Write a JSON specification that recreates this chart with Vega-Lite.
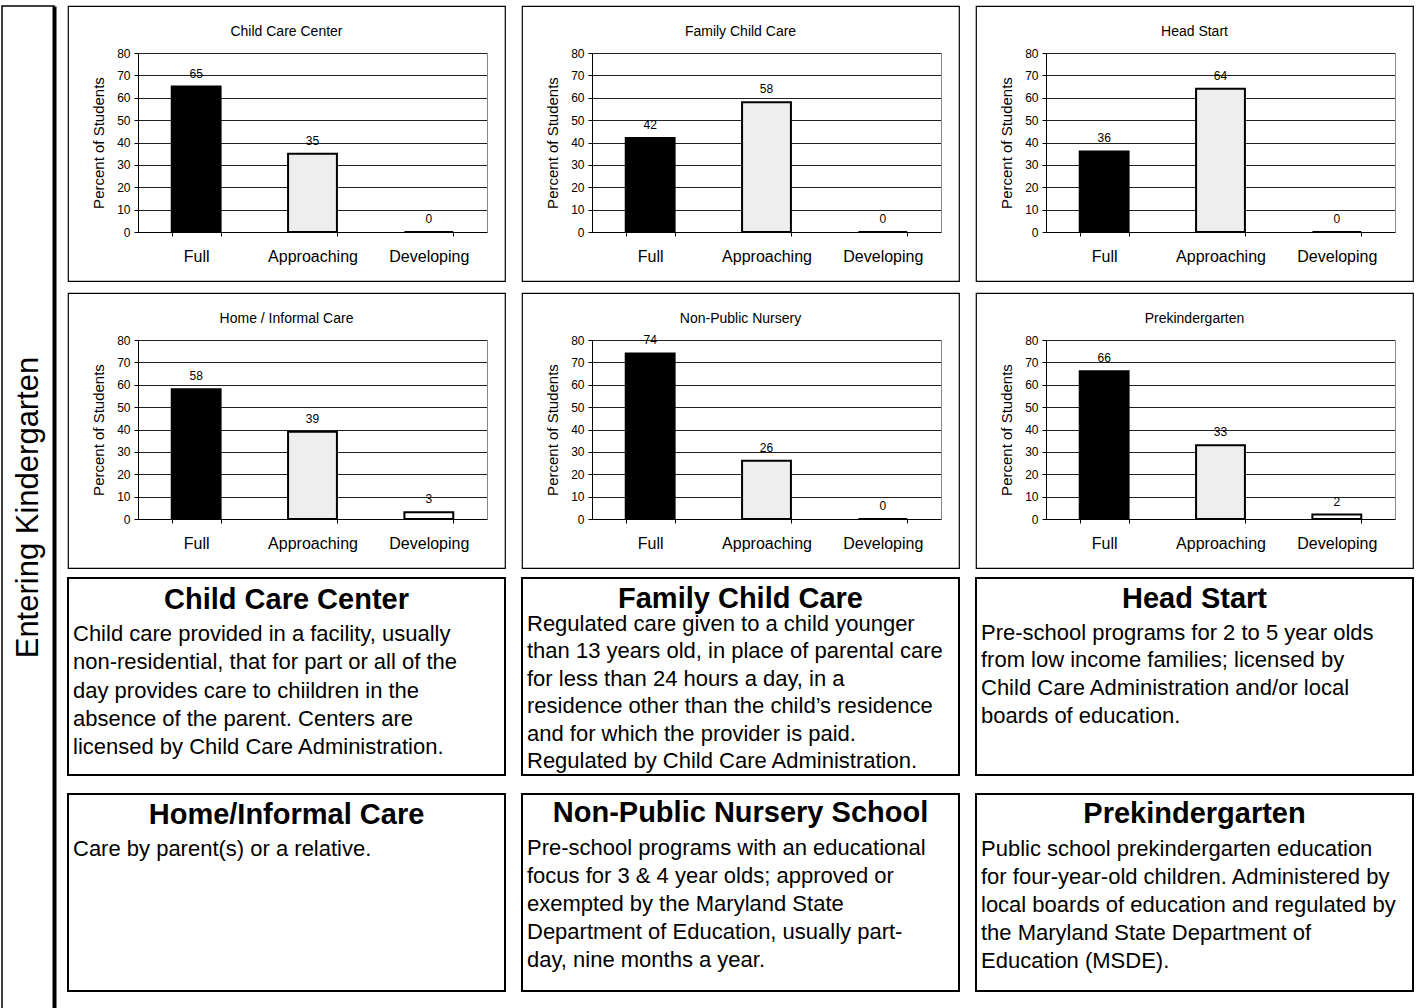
{
  "$schema": "https://vega.github.io/schema/vega-lite/v6.json",
  "background": "white",
  "padding": {"left": 1, "top": 5, "right": 0, "bottom": 0},
  "config": {
    "font": "Liberation Sans",
    "view": {"stroke": "#000", "strokeWidth": 2},
    "axis": {"labelFont": "Liberation Sans", "titleFont": "Liberation Sans"}
  },
  "datasets": {
    "bars": [
      {"panel": "Child Care Center", "level": "Full", "value": 65},
      {"panel": "Child Care Center", "level": "Approaching", "value": 35},
      {"panel": "Child Care Center", "level": "Developing", "value": 0},
      {"panel": "Family Child Care", "level": "Full", "value": 42},
      {"panel": "Family Child Care", "level": "Approaching", "value": 58},
      {"panel": "Family Child Care", "level": "Developing", "value": 0},
      {"panel": "Head Start", "level": "Full", "value": 36},
      {"panel": "Head Start", "level": "Approaching", "value": 64},
      {"panel": "Head Start", "level": "Developing", "value": 0},
      {"panel": "Home / Informal Care", "level": "Full", "value": 58},
      {"panel": "Home / Informal Care", "level": "Approaching", "value": 39},
      {"panel": "Home / Informal Care", "level": "Developing", "value": 3},
      {"panel": "Non-Public Nursery", "level": "Full", "value": 74},
      {"panel": "Non-Public Nursery", "level": "Approaching", "value": 26},
      {"panel": "Non-Public Nursery", "level": "Developing", "value": 0},
      {"panel": "Prekindergarten", "level": "Full", "value": 66},
      {"panel": "Prekindergarten", "level": "Approaching", "value": 33},
      {"panel": "Prekindergarten", "level": "Developing", "value": 2}
    ],
    "boxes": [
      {"box": "Child Care Center", "kind": "title", "col": 0.5, "pos": 0.78, "t": "Child Care Center"},
      {"box": "Child Care Center", "kind": "body", "col": 0, "pos": 2.0, "t": "Child care provided in a facility, usually"},
      {"box": "Child Care Center", "kind": "body", "col": 0, "pos": 3.0, "t": "non-residential, that for part or all of the"},
      {"box": "Child Care Center", "kind": "body", "col": 0, "pos": 4.0, "t": "day provides care to chiildren in the"},
      {"box": "Child Care Center", "kind": "body", "col": 0, "pos": 5.0, "t": "absence of the parent.  Centers are"},
      {"box": "Child Care Center", "kind": "body", "col": 0, "pos": 6.0, "t": "licensed by Child Care Administration."},
      {"box": "Family Child Care", "kind": "title", "col": 0.5, "pos": 0.74, "t": "Family Child Care"},
      {"box": "Family Child Care", "kind": "body", "col": 0, "pos": 1.64, "t": "Regulated care given to a child younger"},
      {"box": "Family Child Care", "kind": "body", "col": 0, "pos": 2.61, "t": "than 13 years old, in place of parental care"},
      {"box": "Family Child Care", "kind": "body", "col": 0, "pos": 3.59, "t": "for less than 24 hours a day, in a"},
      {"box": "Family Child Care", "kind": "body", "col": 0, "pos": 4.56, "t": "residence other than the child’s residence"},
      {"box": "Family Child Care", "kind": "body", "col": 0, "pos": 5.54, "t": "and for which the provider is paid."},
      {"box": "Family Child Care", "kind": "body", "col": 0, "pos": 6.52, "t": "Regulated by Child Care Administration."},
      {"box": "Head Start", "kind": "title", "col": 0.5, "pos": 0.75, "t": "Head Start"},
      {"box": "Head Start", "kind": "body", "col": 0, "pos": 1.95, "t": "Pre-school programs for 2 to 5 year olds"},
      {"box": "Head Start", "kind": "body", "col": 0, "pos": 2.91, "t": "from low income families; licensed by"},
      {"box": "Head Start", "kind": "body", "col": 0, "pos": 3.91, "t": "Child Care Administration and/or local"},
      {"box": "Head Start", "kind": "body", "col": 0, "pos": 4.9, "t": "boards of education."},
      {"box": "Home/Informal Care", "kind": "title", "col": 0.5, "pos": 0.75, "t": "Home/Informal Care"},
      {"box": "Home/Informal Care", "kind": "body", "col": 0, "pos": 1.95, "t": "Care by parent(s) or a relative."},
      {"box": "Non-Public Nursery School", "kind": "title", "col": 0.5, "pos": 0.68, "t": "Non-Public Nursery School"},
      {"box": "Non-Public Nursery School", "kind": "body", "col": 0, "pos": 1.92, "t": "Pre-school programs with an educational"},
      {"box": "Non-Public Nursery School", "kind": "body", "col": 0, "pos": 2.91, "t": "focus for 3 & 4 year olds; approved or"},
      {"box": "Non-Public Nursery School", "kind": "body", "col": 0, "pos": 3.91, "t": "exempted by the Maryland State"},
      {"box": "Non-Public Nursery School", "kind": "body", "col": 0, "pos": 4.9, "t": "Department of Education, usually part-"},
      {"box": "Non-Public Nursery School", "kind": "body", "col": 0, "pos": 5.9, "t": "day, nine months a year."},
      {"box": "Prekindergarten", "kind": "title", "col": 0.5, "pos": 0.71, "t": "Prekindergarten"},
      {"box": "Prekindergarten", "kind": "body", "col": 0, "pos": 1.95, "t": "Public school prekindergarten education"},
      {"box": "Prekindergarten", "kind": "body", "col": 0, "pos": 2.95, "t": "for four-year-old children.  Administered by"},
      {"box": "Prekindergarten", "kind": "body", "col": 0, "pos": 3.95, "t": "local boards of education and regulated by"},
      {"box": "Prekindergarten", "kind": "body", "col": 0, "pos": 4.95, "t": "the Maryland State Department of"},
      {"box": "Prekindergarten", "kind": "body", "col": 0, "pos": 5.93, "t": "Education (MSDE)."}
    ],
    "side": [{"label": "Entering Kindergarten", "x": 0.52, "y": 0.5}]
  },
  "spacing": 12,
  "hconcat": [
    {
      "width": 52, "height": 1003,
      "view": {"stroke": "#000", "strokeWidth": 1.5},
      "data": {"name": "side"},
      "mark": {"type": "text", "angle": 270, "fontSize": 31, "align": "center", "baseline": "middle", "color": "#000"},
      "encoding": {
        "x": {"field": "x", "type": "quantitative", "scale": {"domain": [0, 1]}, "axis": null},
        "y": {"field": "y", "type": "quantitative", "scale": {"domain": [0, 1]},
              "axis": {"orient": "right", "labels": false, "ticks": false, "grid": false, "title": null, "domainColor": "#000", "domainWidth": 4}},
        "text": {"field": "label"}
      }
    },
    {
      "spacing": 8,
      "vconcat": [
        {
          "spacing": 10,
          "vconcat": [
            {
              "spacing": 15,
              "hconcat": [
                {
                  "width": 437, "height": 275,
                  "view": {"stroke": "#000", "strokeWidth": 1.2},
                  "title": {"text": "Child Care Center", "offset": -33, "fontSize": 14, "fontWeight": "normal", "anchor": "middle", "frame": "group", "color": "#000"},
                  "data": {"name": "bars"},
                  "transform": [{"filter": {"field": "panel", "equal": "Child Care Center"}}],
                  "encoding": {
                    "x": {"field": "level", "type": "nominal", "sort": ["Full", "Approaching", "Developing"],
                          "scale": {"range": [70, 419], "paddingInner": 0.58, "paddingOuter": 0.29},
                          "axis": {"title": null, "labelAngle": 0, "labelFontSize": 16, "labelColor": "#000", "labelPadding": 12, "offset": -49, "domainColor": "#000", "tickColor": "#000", "tickSize": 4, "tickBand": "extent", "grid": false}}
                  },
                  "layer": [
                    {"mark": {"type": "bar", "stroke": "#000", "strokeWidth": 2},
                     "encoding": {
                       "y": {"field": "value", "type": "quantitative", "scale": {"domain": [0, 80], "range": [226, 47]},
                             "axis": {"title": "Percent of Students", "titleFontSize": 15, "titleFontWeight": "normal", "titleColor": "#000", "titlePadding": 10, "labelFontSize": 12, "labelColor": "#000", "labelPadding": 4, "tickSize": 4, "tickColor": "#000", "domainColor": "#000", "offset": -70, "values": [0, 10, 20, 30, 40, 50, 60, 70, 80], "grid": true, "gridColor": "#222", "gridOpacity": 1}},
                       "fill": {"field": "level", "type": "nominal", "scale": {"domain": ["Full", "Approaching", "Developing"], "range": ["#000000", "#eeeeee", "#ffffff"]}, "legend": null}}},
                    {"mark": {"type": "text", "dy": -13, "fontSize": 12, "baseline": "middle", "color": "#000"},
                     "encoding": {
                       "y": {"field": "value", "type": "quantitative", "scale": {"domain": [0, 80], "range": [226, 47]},
                             "axis": {"orient": "right", "offset": -18, "labels": false, "ticks": false, "grid": false, "title": null, "domainColor": "#888"}},
                       "text": {"field": "value", "type": "quantitative"}}}
                  ],
                  "resolve": {"axis": {"y": "independent"}}
                },
                {
                  "width": 437, "height": 275,
                  "view": {"stroke": "#000", "strokeWidth": 1.2},
                  "title": {"text": "Family Child Care", "offset": -33, "fontSize": 14, "fontWeight": "normal", "anchor": "middle", "frame": "group", "color": "#000"},
                  "data": {"name": "bars"},
                  "transform": [{"filter": {"field": "panel", "equal": "Family Child Care"}}],
                  "encoding": {
                    "x": {"field": "level", "type": "nominal", "sort": ["Full", "Approaching", "Developing"],
                          "scale": {"range": [70, 419], "paddingInner": 0.58, "paddingOuter": 0.29},
                          "axis": {"title": null, "labelAngle": 0, "labelFontSize": 16, "labelColor": "#000", "labelPadding": 12, "offset": -49, "domainColor": "#000", "tickColor": "#000", "tickSize": 4, "tickBand": "extent", "grid": false}}
                  },
                  "layer": [
                    {"mark": {"type": "bar", "stroke": "#000", "strokeWidth": 2},
                     "encoding": {
                       "y": {"field": "value", "type": "quantitative", "scale": {"domain": [0, 80], "range": [226, 47]},
                             "axis": {"title": "Percent of Students", "titleFontSize": 15, "titleFontWeight": "normal", "titleColor": "#000", "titlePadding": 10, "labelFontSize": 12, "labelColor": "#000", "labelPadding": 4, "tickSize": 4, "tickColor": "#000", "domainColor": "#000", "offset": -70, "values": [0, 10, 20, 30, 40, 50, 60, 70, 80], "grid": true, "gridColor": "#222", "gridOpacity": 1}},
                       "fill": {"field": "level", "type": "nominal", "scale": {"domain": ["Full", "Approaching", "Developing"], "range": ["#000000", "#eeeeee", "#ffffff"]}, "legend": null}}},
                    {"mark": {"type": "text", "dy": -13, "fontSize": 12, "baseline": "middle", "color": "#000"},
                     "encoding": {
                       "y": {"field": "value", "type": "quantitative", "scale": {"domain": [0, 80], "range": [226, 47]},
                             "axis": {"orient": "right", "offset": -18, "labels": false, "ticks": false, "grid": false, "title": null, "domainColor": "#888"}},
                       "text": {"field": "value", "type": "quantitative"}}}
                  ],
                  "resolve": {"axis": {"y": "independent"}}
                },
                {
                  "width": 437, "height": 275,
                  "view": {"stroke": "#000", "strokeWidth": 1.2},
                  "title": {"text": "Head Start", "offset": -33, "fontSize": 14, "fontWeight": "normal", "anchor": "middle", "frame": "group", "color": "#000"},
                  "data": {"name": "bars"},
                  "transform": [{"filter": {"field": "panel", "equal": "Head Start"}}],
                  "encoding": {
                    "x": {"field": "level", "type": "nominal", "sort": ["Full", "Approaching", "Developing"],
                          "scale": {"range": [70, 419], "paddingInner": 0.58, "paddingOuter": 0.29},
                          "axis": {"title": null, "labelAngle": 0, "labelFontSize": 16, "labelColor": "#000", "labelPadding": 12, "offset": -49, "domainColor": "#000", "tickColor": "#000", "tickSize": 4, "tickBand": "extent", "grid": false}}
                  },
                  "layer": [
                    {"mark": {"type": "bar", "stroke": "#000", "strokeWidth": 2},
                     "encoding": {
                       "y": {"field": "value", "type": "quantitative", "scale": {"domain": [0, 80], "range": [226, 47]},
                             "axis": {"title": "Percent of Students", "titleFontSize": 15, "titleFontWeight": "normal", "titleColor": "#000", "titlePadding": 10, "labelFontSize": 12, "labelColor": "#000", "labelPadding": 4, "tickSize": 4, "tickColor": "#000", "domainColor": "#000", "offset": -70, "values": [0, 10, 20, 30, 40, 50, 60, 70, 80], "grid": true, "gridColor": "#222", "gridOpacity": 1}},
                       "fill": {"field": "level", "type": "nominal", "scale": {"domain": ["Full", "Approaching", "Developing"], "range": ["#000000", "#eeeeee", "#ffffff"]}, "legend": null}}},
                    {"mark": {"type": "text", "dy": -13, "fontSize": 12, "baseline": "middle", "color": "#000"},
                     "encoding": {
                       "y": {"field": "value", "type": "quantitative", "scale": {"domain": [0, 80], "range": [226, 47]},
                             "axis": {"orient": "right", "offset": -18, "labels": false, "ticks": false, "grid": false, "title": null, "domainColor": "#888"}},
                       "text": {"field": "value", "type": "quantitative"}}}
                  ],
                  "resolve": {"axis": {"y": "independent"}}
                }
              ]
            },
            {
              "spacing": 15,
              "hconcat": [
                {
                  "width": 437, "height": 275,
                  "view": {"stroke": "#000", "strokeWidth": 1.2},
                  "title": {"text": "Home / Informal Care", "offset": -33, "fontSize": 14, "fontWeight": "normal", "anchor": "middle", "frame": "group", "color": "#000"},
                  "data": {"name": "bars"},
                  "transform": [{"filter": {"field": "panel", "equal": "Home / Informal Care"}}],
                  "encoding": {
                    "x": {"field": "level", "type": "nominal", "sort": ["Full", "Approaching", "Developing"],
                          "scale": {"range": [70, 419], "paddingInner": 0.58, "paddingOuter": 0.29},
                          "axis": {"title": null, "labelAngle": 0, "labelFontSize": 16, "labelColor": "#000", "labelPadding": 12, "offset": -49, "domainColor": "#000", "tickColor": "#000", "tickSize": 4, "tickBand": "extent", "grid": false}}
                  },
                  "layer": [
                    {"mark": {"type": "bar", "stroke": "#000", "strokeWidth": 2},
                     "encoding": {
                       "y": {"field": "value", "type": "quantitative", "scale": {"domain": [0, 80], "range": [226, 47]},
                             "axis": {"title": "Percent of Students", "titleFontSize": 15, "titleFontWeight": "normal", "titleColor": "#000", "titlePadding": 10, "labelFontSize": 12, "labelColor": "#000", "labelPadding": 4, "tickSize": 4, "tickColor": "#000", "domainColor": "#000", "offset": -70, "values": [0, 10, 20, 30, 40, 50, 60, 70, 80], "grid": true, "gridColor": "#222", "gridOpacity": 1}},
                       "fill": {"field": "level", "type": "nominal", "scale": {"domain": ["Full", "Approaching", "Developing"], "range": ["#000000", "#eeeeee", "#ffffff"]}, "legend": null}}},
                    {"mark": {"type": "text", "dy": -13, "fontSize": 12, "baseline": "middle", "color": "#000"},
                     "encoding": {
                       "y": {"field": "value", "type": "quantitative", "scale": {"domain": [0, 80], "range": [226, 47]},
                             "axis": {"orient": "right", "offset": -18, "labels": false, "ticks": false, "grid": false, "title": null, "domainColor": "#888"}},
                       "text": {"field": "value", "type": "quantitative"}}}
                  ],
                  "resolve": {"axis": {"y": "independent"}}
                },
                {
                  "width": 437, "height": 275,
                  "view": {"stroke": "#000", "strokeWidth": 1.2},
                  "title": {"text": "Non-Public Nursery", "offset": -33, "fontSize": 14, "fontWeight": "normal", "anchor": "middle", "frame": "group", "color": "#000"},
                  "data": {"name": "bars"},
                  "transform": [{"filter": {"field": "panel", "equal": "Non-Public Nursery"}}],
                  "encoding": {
                    "x": {"field": "level", "type": "nominal", "sort": ["Full", "Approaching", "Developing"],
                          "scale": {"range": [70, 419], "paddingInner": 0.58, "paddingOuter": 0.29},
                          "axis": {"title": null, "labelAngle": 0, "labelFontSize": 16, "labelColor": "#000", "labelPadding": 12, "offset": -49, "domainColor": "#000", "tickColor": "#000", "tickSize": 4, "tickBand": "extent", "grid": false}}
                  },
                  "layer": [
                    {"mark": {"type": "bar", "stroke": "#000", "strokeWidth": 2},
                     "encoding": {
                       "y": {"field": "value", "type": "quantitative", "scale": {"domain": [0, 80], "range": [226, 47]},
                             "axis": {"title": "Percent of Students", "titleFontSize": 15, "titleFontWeight": "normal", "titleColor": "#000", "titlePadding": 10, "labelFontSize": 12, "labelColor": "#000", "labelPadding": 4, "tickSize": 4, "tickColor": "#000", "domainColor": "#000", "offset": -70, "values": [0, 10, 20, 30, 40, 50, 60, 70, 80], "grid": true, "gridColor": "#222", "gridOpacity": 1}},
                       "fill": {"field": "level", "type": "nominal", "scale": {"domain": ["Full", "Approaching", "Developing"], "range": ["#000000", "#eeeeee", "#ffffff"]}, "legend": null}}},
                    {"mark": {"type": "text", "dy": -13, "fontSize": 12, "baseline": "middle", "color": "#000"},
                     "encoding": {
                       "y": {"field": "value", "type": "quantitative", "scale": {"domain": [0, 80], "range": [226, 47]},
                             "axis": {"orient": "right", "offset": -18, "labels": false, "ticks": false, "grid": false, "title": null, "domainColor": "#888"}},
                       "text": {"field": "value", "type": "quantitative"}}}
                  ],
                  "resolve": {"axis": {"y": "independent"}}
                },
                {
                  "width": 437, "height": 275,
                  "view": {"stroke": "#000", "strokeWidth": 1.2},
                  "title": {"text": "Prekindergarten", "offset": -33, "fontSize": 14, "fontWeight": "normal", "anchor": "middle", "frame": "group", "color": "#000"},
                  "data": {"name": "bars"},
                  "transform": [{"filter": {"field": "panel", "equal": "Prekindergarten"}}],
                  "encoding": {
                    "x": {"field": "level", "type": "nominal", "sort": ["Full", "Approaching", "Developing"],
                          "scale": {"range": [70, 419], "paddingInner": 0.58, "paddingOuter": 0.29},
                          "axis": {"title": null, "labelAngle": 0, "labelFontSize": 16, "labelColor": "#000", "labelPadding": 12, "offset": -49, "domainColor": "#000", "tickColor": "#000", "tickSize": 4, "tickBand": "extent", "grid": false}}
                  },
                  "layer": [
                    {"mark": {"type": "bar", "stroke": "#000", "strokeWidth": 2},
                     "encoding": {
                       "y": {"field": "value", "type": "quantitative", "scale": {"domain": [0, 80], "range": [226, 47]},
                             "axis": {"title": "Percent of Students", "titleFontSize": 15, "titleFontWeight": "normal", "titleColor": "#000", "titlePadding": 10, "labelFontSize": 12, "labelColor": "#000", "labelPadding": 4, "tickSize": 4, "tickColor": "#000", "domainColor": "#000", "offset": -70, "values": [0, 10, 20, 30, 40, 50, 60, 70, 80], "grid": true, "gridColor": "#222", "gridOpacity": 1}},
                       "fill": {"field": "level", "type": "nominal", "scale": {"domain": ["Full", "Approaching", "Developing"], "range": ["#000000", "#eeeeee", "#ffffff"]}, "legend": null}}},
                    {"mark": {"type": "text", "dy": -13, "fontSize": 12, "baseline": "middle", "color": "#000"},
                     "encoding": {
                       "y": {"field": "value", "type": "quantitative", "scale": {"domain": [0, 80], "range": [226, 47]},
                             "axis": {"orient": "right", "offset": -18, "labels": false, "ticks": false, "grid": false, "title": null, "domainColor": "#888"}},
                       "text": {"field": "value", "type": "quantitative"}}}
                  ],
                  "resolve": {"axis": {"y": "independent"}}
                }
              ]
            }
          ]
        },
        {
          "spacing": 17,
          "vconcat": [
            {
              "spacing": 15,
              "hconcat": [
                {"width": 437, "height": 197, "data": {"name": "boxes"}, "transform": [{"filter": {"field": "box", "equal": "Child Care Center"}}],
                 "layer": [
                   {"transform": [{"filter": {"field": "kind", "equal": "title"}}],
                    "mark": {"type": "text", "fontSize": 29, "fontWeight": "bold", "align": "center", "baseline": "middle", "color": "#000"},
                    "encoding": {"x": {"field": "col", "type": "quantitative", "scale": {"domain": [0, 1]}, "axis": null},
                                 "y": {"field": "pos", "type": "quantitative", "scale": {"domain": [0, 7], "reverse": true}, "axis": null},
                                 "text": {"field": "t"}}},
                   {"transform": [{"filter": {"field": "kind", "equal": "body"}}],
                    "mark": {"type": "text", "fontSize": 22, "align": "left", "baseline": "middle", "dx": 5, "color": "#000"},
                    "encoding": {"x": {"field": "col", "type": "quantitative", "scale": {"domain": [0, 1]}, "axis": null},
                                 "y": {"field": "pos", "type": "quantitative", "scale": {"domain": [0, 7], "reverse": true}, "axis": null},
                                 "text": {"field": "t"}}}
                 ]},
                {"width": 437, "height": 197, "data": {"name": "boxes"}, "transform": [{"filter": {"field": "box", "equal": "Family Child Care"}}],
                 "layer": [
                   {"transform": [{"filter": {"field": "kind", "equal": "title"}}],
                    "mark": {"type": "text", "fontSize": 29, "fontWeight": "bold", "align": "center", "baseline": "middle", "color": "#000"},
                    "encoding": {"x": {"field": "col", "type": "quantitative", "scale": {"domain": [0, 1]}, "axis": null},
                                 "y": {"field": "pos", "type": "quantitative", "scale": {"domain": [0, 7], "reverse": true}, "axis": null},
                                 "text": {"field": "t"}}},
                   {"transform": [{"filter": {"field": "kind", "equal": "body"}}],
                    "mark": {"type": "text", "fontSize": 22, "align": "left", "baseline": "middle", "dx": 5, "color": "#000"},
                    "encoding": {"x": {"field": "col", "type": "quantitative", "scale": {"domain": [0, 1]}, "axis": null},
                                 "y": {"field": "pos", "type": "quantitative", "scale": {"domain": [0, 7], "reverse": true}, "axis": null},
                                 "text": {"field": "t"}}}
                 ]},
                {"width": 437, "height": 197, "data": {"name": "boxes"}, "transform": [{"filter": {"field": "box", "equal": "Head Start"}}],
                 "layer": [
                   {"transform": [{"filter": {"field": "kind", "equal": "title"}}],
                    "mark": {"type": "text", "fontSize": 29, "fontWeight": "bold", "align": "center", "baseline": "middle", "color": "#000"},
                    "encoding": {"x": {"field": "col", "type": "quantitative", "scale": {"domain": [0, 1]}, "axis": null},
                                 "y": {"field": "pos", "type": "quantitative", "scale": {"domain": [0, 7], "reverse": true}, "axis": null},
                                 "text": {"field": "t"}}},
                   {"transform": [{"filter": {"field": "kind", "equal": "body"}}],
                    "mark": {"type": "text", "fontSize": 22, "align": "left", "baseline": "middle", "dx": 5, "color": "#000"},
                    "encoding": {"x": {"field": "col", "type": "quantitative", "scale": {"domain": [0, 1]}, "axis": null},
                                 "y": {"field": "pos", "type": "quantitative", "scale": {"domain": [0, 7], "reverse": true}, "axis": null},
                                 "text": {"field": "t"}}}
                 ]}
              ]
            },
            {
              "spacing": 15,
              "hconcat": [
                {"width": 437, "height": 197, "data": {"name": "boxes"}, "transform": [{"filter": {"field": "box", "equal": "Home/Informal Care"}}],
                 "layer": [
                   {"transform": [{"filter": {"field": "kind", "equal": "title"}}],
                    "mark": {"type": "text", "fontSize": 29, "fontWeight": "bold", "align": "center", "baseline": "middle", "color": "#000"},
                    "encoding": {"x": {"field": "col", "type": "quantitative", "scale": {"domain": [0, 1]}, "axis": null},
                                 "y": {"field": "pos", "type": "quantitative", "scale": {"domain": [0, 7], "reverse": true}, "axis": null},
                                 "text": {"field": "t"}}},
                   {"transform": [{"filter": {"field": "kind", "equal": "body"}}],
                    "mark": {"type": "text", "fontSize": 22, "align": "left", "baseline": "middle", "dx": 5, "color": "#000"},
                    "encoding": {"x": {"field": "col", "type": "quantitative", "scale": {"domain": [0, 1]}, "axis": null},
                                 "y": {"field": "pos", "type": "quantitative", "scale": {"domain": [0, 7], "reverse": true}, "axis": null},
                                 "text": {"field": "t"}}}
                 ]},
                {"width": 437, "height": 197, "data": {"name": "boxes"}, "transform": [{"filter": {"field": "box", "equal": "Non-Public Nursery School"}}],
                 "layer": [
                   {"transform": [{"filter": {"field": "kind", "equal": "title"}}],
                    "mark": {"type": "text", "fontSize": 29, "fontWeight": "bold", "align": "center", "baseline": "middle", "color": "#000"},
                    "encoding": {"x": {"field": "col", "type": "quantitative", "scale": {"domain": [0, 1]}, "axis": null},
                                 "y": {"field": "pos", "type": "quantitative", "scale": {"domain": [0, 7], "reverse": true}, "axis": null},
                                 "text": {"field": "t"}}},
                   {"transform": [{"filter": {"field": "kind", "equal": "body"}}],
                    "mark": {"type": "text", "fontSize": 22, "align": "left", "baseline": "middle", "dx": 5, "color": "#000"},
                    "encoding": {"x": {"field": "col", "type": "quantitative", "scale": {"domain": [0, 1]}, "axis": null},
                                 "y": {"field": "pos", "type": "quantitative", "scale": {"domain": [0, 7], "reverse": true}, "axis": null},
                                 "text": {"field": "t"}}}
                 ]},
                {"width": 437, "height": 197, "data": {"name": "boxes"}, "transform": [{"filter": {"field": "box", "equal": "Prekindergarten"}}],
                 "layer": [
                   {"transform": [{"filter": {"field": "kind", "equal": "title"}}],
                    "mark": {"type": "text", "fontSize": 29, "fontWeight": "bold", "align": "center", "baseline": "middle", "color": "#000"},
                    "encoding": {"x": {"field": "col", "type": "quantitative", "scale": {"domain": [0, 1]}, "axis": null},
                                 "y": {"field": "pos", "type": "quantitative", "scale": {"domain": [0, 7], "reverse": true}, "axis": null},
                                 "text": {"field": "t"}}},
                   {"transform": [{"filter": {"field": "kind", "equal": "body"}}],
                    "mark": {"type": "text", "fontSize": 22, "align": "left", "baseline": "middle", "dx": 5, "color": "#000"},
                    "encoding": {"x": {"field": "col", "type": "quantitative", "scale": {"domain": [0, 1]}, "axis": null},
                                 "y": {"field": "pos", "type": "quantitative", "scale": {"domain": [0, 7], "reverse": true}, "axis": null},
                                 "text": {"field": "t"}}}
                 ]}
              ]
            }
          ]
        }
      ]
    }
  ]
}
